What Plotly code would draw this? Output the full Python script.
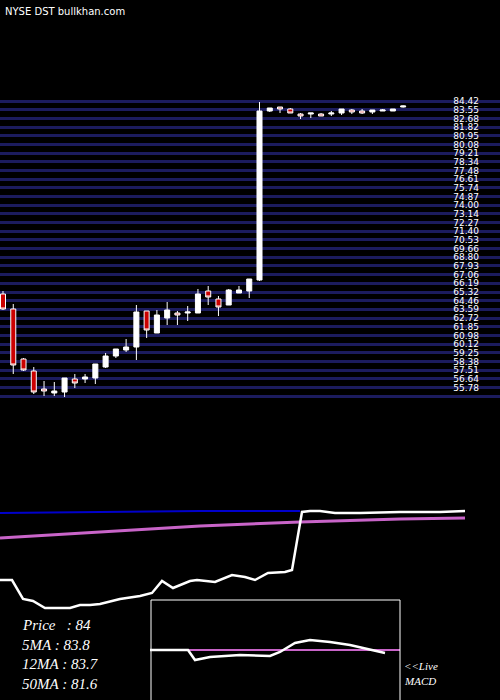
import plotly.graph_objects as go

# daily candles (price units)
opens  = [65.12, 63.62, 58.62, 57.42, 55.62, 55.22, 55.32, 56.62, 56.62, 56.72,
          57.82, 58.92, 59.52, 59.82, 63.42, 61.22, 62.72, 63.22, 63.22, 63.22,
          65.42, 64.62, 64.02, 65.22, 65.42, 66.52, 83.42, 83.82, 83.62, 83.12,
          83.12, 83.12, 83.12, 83.22, 83.52, 83.42, 83.32, 83.42, 83.42, 83.82]
highs  = [65.42, 64.12, 58.72, 57.82, 56.42, 56.32, 56.72, 57.12, 57.12, 58.12,
          59.22, 59.62, 60.62, 64.02, 63.42, 63.52, 64.32, 63.42, 63.92, 65.62,
          65.92, 64.92, 65.62, 65.92, 66.62, 84.32, 83.72, 83.82, 83.72, 83.22,
          83.22, 83.22, 83.42, 83.62, 83.62, 83.62, 83.52, 83.62, 83.62, 83.97]
lows   = [63.52, 57.12, 57.42, 55.12, 54.92, 54.92, 54.82, 55.72, 56.22, 56.12,
          57.72, 58.72, 59.32, 58.52, 60.72, 61.22, 62.02, 62.02, 62.42, 63.22,
          64.02, 62.92, 64.02, 65.22, 64.72, 66.42, 83.32, 83.22, 83.22, 82.62,
          82.72, 82.92, 82.92, 83.02, 83.12, 83.12, 83.12, 83.42, 83.42, 83.77]
closes = [63.62, 58.02, 57.52, 55.32, 55.42, 55.42, 56.72, 56.22, 56.82, 58.12,
          58.92, 59.62, 59.82, 63.32, 61.52, 63.02, 63.52, 63.02, 63.32, 65.12,
          64.82, 63.82, 65.52, 65.52, 66.62, 83.42, 83.72, 83.62, 83.22, 82.92,
          83.22, 82.92, 83.22, 83.62, 83.32, 83.22, 83.52, 83.52, 83.62, 83.92]
days = list(range(len(opens)))

# price grid levels
grid_top = 84.42
grid_step = 0.868
grid_levels = [round(grid_top - k * grid_step, 2) for k in range(35)]
grid_labels = ["%.2f" % v for v in grid_levels]

# moving average panel (relative units)
ma_x = [0, 12, 23, 33, 45, 70, 80, 90, 100, 120, 140, 152, 162, 173, 190, 197, 215,
        232, 245, 255, 268, 285, 292, 302, 310, 320, 335, 360, 400, 440, 465]
ma_white = [40, 40, 21, 19, 12, 12, 15, 15, 16, 21, 24, 27, 39, 32, 39, 40, 38,
            45, 43, 40, 47, 48, 50, 108, 109, 109, 107, 107, 108, 108, 109]
ma_pink_x = [0, 100, 200, 300, 400, 465]
ma_pink = [82, 88, 94, 98, 101, 102]
ma_blue_x = [0, 100, 200, 300]
ma_blue = [107, 108, 109, 109]

# MACD panel
macd_x = [0, 38, 45, 60, 90, 120, 130, 145, 160, 180, 200, 220, 235]
macd = [0, 0, -10, -7, -5, -6, -2, 7, 10, 8, 5, 0, -3]
signal_x = [0, 250]
signal = [0, 0]

legend_lines = ["Price   : 84", "5MA : 83.8", "12MA : 83.7", "50MA : 81.6"]

W, H = 500, 700
px = 10.26
x0 = -3 / px

fig = go.Figure()
fig.add_trace(go.Candlestick(
    x=days, open=opens, high=highs, low=lows, close=closes,
    increasing=dict(fillcolor="white", line=dict(color="white", width=1)),
    decreasing=dict(fillcolor="#cc0000", line=dict(color="white", width=1)),
    whiskerwidth=0, showlegend=False, xaxis="x", yaxis="y"))

fig.add_trace(go.Scatter(x=ma_blue_x, y=ma_blue, mode="lines",
                         line=dict(color="#0000cc", width=2), xaxis="x2", yaxis="y2"))
fig.add_trace(go.Scatter(x=ma_pink_x, y=ma_pink, mode="lines",
                         line=dict(color="#c864c8", width=3), xaxis="x2", yaxis="y2"))
fig.add_trace(go.Scatter(x=ma_x, y=ma_white, mode="lines",
                         line=dict(color="white", width=2.5), xaxis="x2", yaxis="y2"))

fig.add_trace(go.Scatter(x=signal_x, y=signal, mode="lines",
                         line=dict(color="#c864c8", width=2), xaxis="x3", yaxis="y3"))
fig.add_trace(go.Scatter(x=macd_x, y=macd, mode="lines",
                         line=dict(color="white", width=2.5), xaxis="x3", yaxis="y3"))

# price panel spans pixel 90..400
p_hi = 84.42 + 11 * 0.1
p_lo = 84.42 - 299 * 0.1

fig.update_layout(
    width=W, height=H, margin=dict(l=0, r=0, t=0, b=0),
    paper_bgcolor="black", plot_bgcolor="black", showlegend=False,
    xaxis=dict(range=[x0, x0 + W / px], domain=[0, 1], visible=False,
               rangeslider=dict(visible=False)),
    yaxis=dict(domain=[1 - 400 / H, 1 - 90 / H], range=[p_lo, p_hi],
               tickvals=grid_levels, ticktext=grid_labels, side="right",
               ticklabelposition="inside", ticklabelstandoff=18,
               tickfont=dict(color="white", size=9, family="DejaVu Sans"),
               showgrid=True, gridcolor="#1c1c5e", gridwidth=3, zeroline=False),
    xaxis2=dict(range=[0, 500], domain=[0, 1], visible=False, anchor="y2"),
    yaxis2=dict(range=[0, 120], domain=[1 - 620 / H, 1 - 500 / H], visible=False),
    xaxis3=dict(range=[0, 250], domain=[150 / W, 400 / W], visible=False, anchor="y3"),
    yaxis3=dict(range=[-50, 50], domain=[0, 1 - 600 / H], visible=False),
    font=dict(family="Liberation Serif", color="white"),
)

fig.add_shape(type="rect", xref="paper", yref="paper",
              x0=151 / W, x1=400 / W, y0=-0.01, y1=1 - 600 / H,
              line=dict(color="white", width=1))

fig.add_annotation(text="NYSE DST bullkhan.com", xref="paper", yref="paper",
                   x=3 / W, y=1 - 4 / H, xanchor="left", yanchor="top", showarrow=False,
                   font=dict(size=10, family="DejaVu Sans", color="white"))

for i, t in enumerate(legend_lines):
    fig.add_annotation(text=t, xref="paper", yref="paper",
                       x=20 / W, y=1 - (625 + i * 19.5) / H, xanchor="left", yanchor="middle",
                       showarrow=False,
                       font=dict(size=15, family="Liberation Serif", style="italic", color="white"))

for i, t in enumerate(["<<Live", "MACD"]):
    fig.add_annotation(text=t, xref="paper", yref="paper",
                       x=402 / W, y=1 - (666 + i * 15) / H, xanchor="left", yanchor="middle",
                       showarrow=False,
                       font=dict(size=11, family="Liberation Serif", style="italic", color="white"))

fig.write_html("out.html", config={"displayModeBar": False},
               post_script="document.body.style.margin='0';document.body.style.background='black';")
